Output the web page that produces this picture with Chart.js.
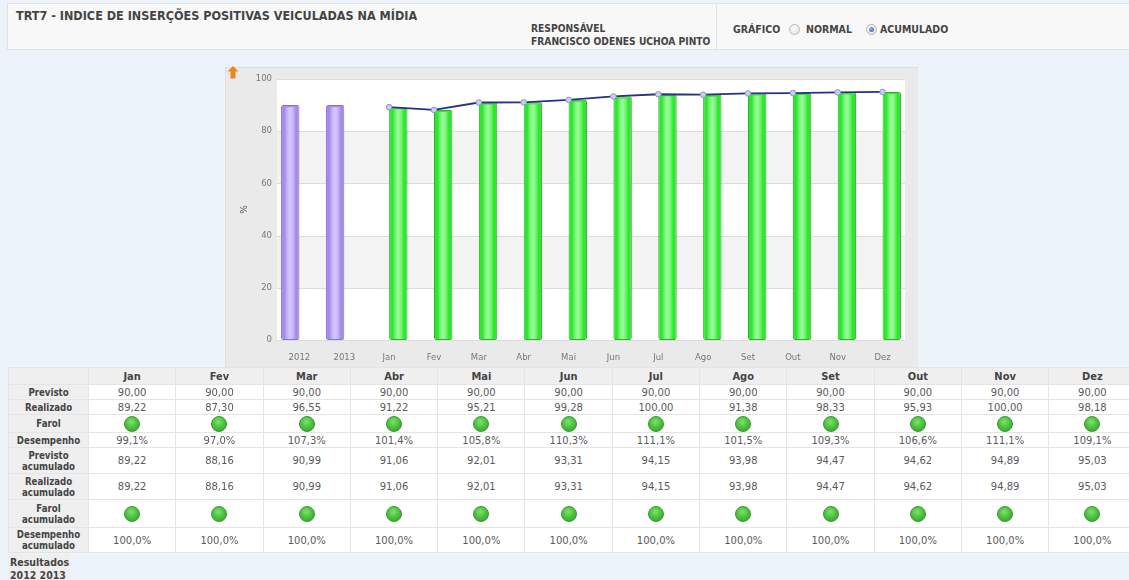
<!DOCTYPE html>
<html>
<head>
<meta charset="utf-8">
<script src="https://cdn.jsdelivr.net/npm/chart.js@4.4.1/dist/chart.umd.min.js"></script>
<style>
  html, body { margin:0; padding:0; }
  body { width:1129px; height:580px; overflow:hidden; background:#edf3fb; position:relative; font-family:"DejaVu Sans", Verdana, sans-serif; }
  #hdr { position:absolute; left:7px; top:3px; width:1122px; height:45px; background:#f8f8f8; border:1px solid #e2e2e2; border-right:none; }
  #hdrdiv { position:absolute; left:716px; top:3px; width:1px; height:46px; background:#e2e2e2; }
  .ht { position:absolute; font-family:"DejaVu Sans Condensed","DejaVu Sans",sans-serif; font-weight:bold; color:#444; white-space:nowrap; }
  .radio { position:absolute; width:9px; height:9px; border-radius:50%; border:1px solid #b9b9b9; background:radial-gradient(circle at 40% 35%, #ffffff, #dcdcdc); }
  .radio.on::after { content:""; position:absolute; left:2px; top:2px; width:5px; height:5px; border-radius:50%; background:radial-gradient(circle at 40% 35%, #8fb6e6, #2a5ea8); }
  #panel { position:absolute; left:225px; top:67px; width:693px; height:300px; background:#eaeaea; border-top:1px solid #dedede; border-left:1px solid #dedede; box-sizing:border-box; }
  #chartbox { position:absolute; left:225px; top:67px; width:693px; height:299px; }
  #arrow { position:absolute; left:227px; top:66px; }
  table { position:absolute; left:8px; top:367px; border-collapse:collapse; table-layout:fixed; font-family:"DejaVu Sans",sans-serif; font-size:10px; color:#5a5a5a; }
  td, th { border:1px solid #e4e4e4; padding:0; text-align:center; line-height:11px; overflow:hidden; }
  th { background:#efefef; color:#444; font-weight:bold; font-size:11px; font-family:"DejaVu Sans Condensed","DejaVu Sans",sans-serif; }
  td.lbl { background:#efefef; color:#444; font-weight:bold; font-family:"DejaVu Sans Condensed","DejaVu Sans",sans-serif; font-size:9.6px; }
  td.v { background:#ffffff; }
  .dot { display:inline-block; width:16px; height:16px; border-radius:50%; box-sizing:border-box; border:1px solid #3d9a35; background:radial-gradient(circle at 45% 35%, #80e070 0%, #4ec340 45%, #2f9a27 100%); vertical-align:middle; }
  #res { position:absolute; left:8px; top:554px; width:62px; height:30px; background:#efefef; font-family:"DejaVu Sans Condensed","DejaVu Sans",sans-serif; font-weight:bold; font-size:10.5px; color:#444; line-height:13px; padding-left:2px; padding-top:2px; box-sizing:border-box; }
</style>
</head>
<body>
<div id="hdr"></div>
<div id="hdrdiv"></div>
<div class="ht" style="left:16px; top:8px; font-size:12.5px;">TRT7 - INDICE DE INSERÇÕES POSITIVAS VEICULADAS NA MÍDIA</div>
<div class="ht" style="left:531px; top:23px; font-size:10.2px;">RESPONSÁVEL</div>
<div class="ht" style="left:531px; top:36px; font-size:10.2px;">FRANCISCO ODENES UCHOA PINTO</div>
<div class="ht" style="left:733px; top:23px; font-size:10.5px;">GRÁFICO</div>
<div class="radio" style="left:789px; top:24px;"></div>
<div class="ht" style="left:806px; top:23px; font-size:10.5px;">NORMAL</div>
<div class="radio on" style="left:866px; top:24px;"></div>
<div class="ht" style="left:880px; top:23px; font-size:10.5px;">ACUMULADO</div>

<div id="panel"></div>
<div id="chartbox"><canvas id="c" width="693" height="299"></canvas></div>
<svg id="arrow" width="12" height="13" viewBox="0 0 12 13"><path d="M6 0 L11.5 5.5 L8.5 5.5 L8.5 12.5 L3.5 12.5 L3.5 5.5 L0.5 5.5 Z" fill="#f0861a"/></svg>

<table id="tbl"></table>
<div id="res">Resultados<br>2012 2013</div>

<script>
// ---- data ----
const categories = ["2012","2013","Jan","Fev","Mar","Abr","Mai","Jun","Jul","Ago","Set","Out","Nov","Dez"];
const months = ["Jan","Fev","Mar","Abr","Mai","Jun","Jul","Ago","Set","Out","Nov","Dez"];
const yearResults = [90.0, 90.0];            // 2012, 2013 (purple bars)
const previsto = [90.00,90.00,90.00,90.00,90.00,90.00,90.00,90.00,90.00,90.00,90.00,90.00];
const realizado = [89.22,87.30,96.55,91.22,95.21,99.28,100.00,91.38,98.33,95.93,100.00,98.18];
const desempenho = [99.1,97.0,107.3,101.4,105.8,110.3,111.1,101.5,109.3,106.6,111.1,109.1];
const previstoAcum = [89.22,88.16,90.99,91.06,92.01,93.31,94.15,93.98,94.47,94.62,94.89,95.03];
const realizadoAcum = [89.22,88.16,90.99,91.06,92.01,93.31,94.15,93.98,94.47,94.62,94.89,95.03];
const desempenhoAcum = [100.0,100.0,100.0,100.0,100.0,100.0,100.0,100.0,100.0,100.0,100.0,100.0];
const yTicks = [0,20,40,60,80,100];

// ---- series aligned to categories ----
const nYears = yearResults.length;
const purpleSeries = categories.map((c,i) => i < nYears ? yearResults[i] : null);
const greenSeries = categories.map((c,i) => i < nYears ? null : realizadoAcum[i-nYears]);
const lineSeries = categories.map((c,i) => i < nYears ? null : previstoAcum[i-nYears]);

// ---- plugins ----
const bands = {
  id:'bands',
  beforeDatasetsDraw(chart){
    const {ctx, chartArea:a, scales:{y}} = chart;
    ctx.save();
    ctx.fillStyle = '#ffffff';
    ctx.fillRect(a.left, a.top, a.right-a.left, a.bottom-a.top);
    for (let i=0;i<yTicks.length-1;i++){
      const y0 = y.getPixelForValue(yTicks[i]), y1 = y.getPixelForValue(yTicks[i+1]);
      ctx.fillStyle = (i % 2 === 1) ? '#f3f3f3' : '#ffffff';
      ctx.fillRect(a.left, y1, a.right-a.left, y0-y1);
    }
    ctx.strokeStyle = '#dcdcdc'; ctx.lineWidth = 1;
    yTicks.forEach(v => {
      const py = Math.round(y.getPixelForValue(v)) + 0.5;
      ctx.beginPath(); ctx.moveTo(a.left, py); ctx.lineTo(a.right, py); ctx.stroke();
    });
    ctx.restore();
  }
};
const shine = {
  id:'shine',
  afterDatasetDraw(chart, args){
    if (args.index < 1) return;
    const ctx = chart.ctx;
    const ds = chart.data.datasets[args.index];
    const hi = args.index === 1 ? 'rgba(214,200,255,0.95)' : 'rgba(160,255,160,0.9)';
    args.meta.data.forEach((el, i) => {
      if (ds.data[i] == null) return;
      const w = el.width, x0 = el.x - w/2, top = el.y, base = el.base;
      if (![w, x0, top, base].every(Number.isFinite)) return;
      const g = ctx.createLinearGradient(x0, 0, x0 + w, 0);
      g.addColorStop(0, 'rgba(255,255,255,0)');
      g.addColorStop(0.2, 'rgba(255,255,255,0)');
      g.addColorStop(0.5, hi);
      g.addColorStop(0.8, 'rgba(255,255,255,0)');
      g.addColorStop(1, 'rgba(255,255,255,0)');
      ctx.save();
      ctx.fillStyle = g;
      ctx.fillRect(x0 + 2, top + 2, w - 4, base - top - 3);
      ctx.restore();
    });
  }
};

const chart = new Chart(document.getElementById('c'), {
  type:'bar',
  data:{
    labels: categories,
    datasets:[
      { type:'line', data: lineSeries, borderColor:'#263282', borderWidth:1.8, pointRadius:2.8,
        pointBackgroundColor:'#c9d0e8', pointBorderColor:'#8a94c6', pointBorderWidth:1, tension:0, order:0 },
      { label:'ano', data: purpleSeries, backgroundColor:'#a58cec', borderColor:'#8a70d4', borderWidth:1,
        borderRadius:2, borderSkipped:false, barPercentage:1, categoryPercentage:0.82, order:1 },
      { label:'mes', data: greenSeries, backgroundColor:'#2de82d', borderColor:'#3aa832', borderWidth:1,
        borderRadius:2, borderSkipped:false, barPercentage:1, categoryPercentage:0.82, order:1 }
    ]
  },
  options:{
    responsive:false, animation:false, devicePixelRatio:1,
    layout:{ padding:{ top:12, right:13, left:0, bottom:0 } },
    plugins:{ legend:{display:false}, tooltip:{enabled:false} },
    scales:{
      x:{ offset:true, grid:{ display:false }, border:{ display:false },
          ticks:{ color:'#777', font:{ family:'DejaVu Sans', size:8.5 }, padding:5, maxRotation:0, autoSkip:false },
          afterFit(s){ s.height = 26; } },
      y:{ min:0, max:100, grid:{ display:false, drawTicks:false, tickLength:0 }, border:{ display:false },
          ticks:{ stepSize:20, color:'#777', font:{ family:'DejaVu Sans', size:8.5 }, padding:5 },
          title:{ display:true, text:'%', color:'#555', font:{ family:'DejaVu Sans', size:9 }, padding:{ top:14, bottom:0 } },
          afterFit(s){ s.width = 52; } }
    }
  },
  plugins:[bands, shine]
});

// ---- table ----
const fmt2 = v => v.toFixed(2).replace('.', ',');
const fmtP = v => v.toFixed(1).replace('.', ',') + '%';
const dot = () => '<span class="dot"></span>';
const rows = [
  ['Previsto', previsto.map(fmt2), 15],
  ['Realizado', realizado.map(fmt2), 15],
  ['Farol', months.map(dot), 18],
  ['Desempenho', desempenho.map(fmtP), 15],
  ['Previsto<br>acumulado', previstoAcum.map(fmt2), 26],
  ['Realizado<br>acumulado', realizadoAcum.map(fmt2), 26],
  ['Farol<br>acumulado', months.map(dot), 28],
  ['Desempenho<br>acumulado', desempenhoAcum.map(fmtP), 25]
];
let html = '<colgroup><col style="width:80px">' + months.map(() => '<col style="width:87.3px">').join('') + '</colgroup>';
html += '<tr style="height:17px"><th style="background:#efefef"></th>' + months.map(m => '<th>' + m + '</th>').join('') + '</tr>';
rows.forEach(r => {
  html += '<tr style="height:' + r[2] + 'px"><td class="lbl">' + r[0] + '</td>' + r[1].map(v => '<td class="v">' + v + '</td>').join('') + '</tr>';
});
const tbl = document.getElementById('tbl');
tbl.innerHTML = html;
tbl.style.width = (80 + 87.3*12) + 'px';
</script>
</body>
</html>
